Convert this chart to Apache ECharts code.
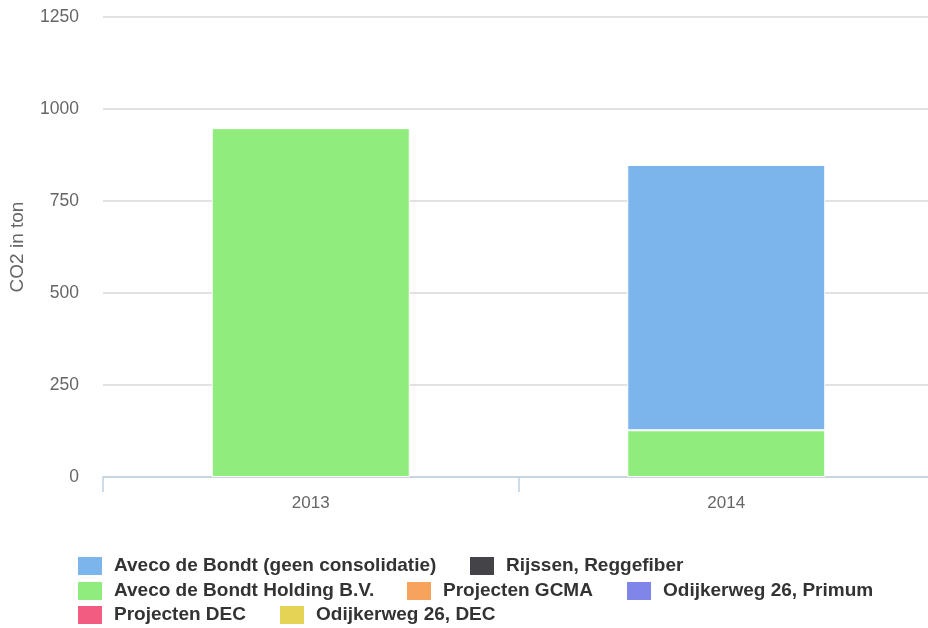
<!DOCTYPE html>
<html>
<head>
<meta charset="utf-8">
<script src="https://cdn.jsdelivr.net/npm/echarts@6/dist/echarts.min.js"></script>
<style>
html,body{margin:0;padding:0;background:#fff;}
#c{width:928px;height:628px;}
</style>
</head>
<body>
<div id="c"></div>
<script>
const categories = ['2013', '2014'];
const yTicks = [0, 250, 500, 750, 1000, 1250];
const seriesNames = [
  'Aveco de Bondt (geen consolidatie)',
  'Rijssen, Reggefiber',
  'Aveco de Bondt Holding B.V.',
  'Projecten GCMA',
  'Odijkerweg 26, Primum',
  'Projecten DEC',
  'Odijkerweg 26, DEC'
];
const seriesColors = ['#7cb5ec', '#434348', '#90ed7d', '#f7a35c', '#8085e9', '#f15c80', '#e4d354'];
const avecoGeen = [null, 721];
const rijssen = [null, null];
const avecoHolding = [948, 127];
const projectenGCMA = [null, null];
const odijkPrimum = [null, null];
const projectenDEC = [null, null];
const odijkDEC = [null, null];
const seriesValues = [avecoGeen, rijssen, avecoHolding, projectenGCMA, odijkPrimum, projectenDEC, odijkDEC];

// legend layout: [series index, left, top]
const legendRows = [
  [0, 76, 555], [1, 468, 555],
  [2, 76, 580], [3, 405, 580], [4, 625, 580],
  [5, 76, 604], [6, 278, 604]
];

const font = 'Liberation Sans, Arial, Helvetica, sans-serif';

const series = [];
for (let i = seriesNames.length - 1; i >= 0; i--) {
  series.push({
    name: seriesNames[i],
    type: 'bar',
    stack: 'total',
    data: seriesValues[i],
    barWidth: 198,
    itemStyle: { color: seriesColors[i], borderColor: '#ffffff', borderWidth: 1 },
    emphasis: { disabled: true }
  });
}

const legends = legendRows.map(([idx, l, t]) => ({
  data: [seriesNames[idx]],
  left: l,
  top: t,
  padding: 0,
  itemWidth: 26,
  itemHeight: 20,
  icon: 'rect',
  selectedMode: false,
  textStyle: { color: '#333333', fontSize: 19, fontWeight: 'bold', fontFamily: font, padding: [0, 0, 0, 6], lineHeight: 20 }
}));

const chart = echarts.init(document.getElementById('c'), null, { renderer: 'canvas' });
chart.setOption({
  animation: false,
  backgroundColor: '#ffffff',
  color: seriesColors,
  legend: legends,
  grid: { left: 103, right: -6, top: 17, bottom: 151, containLabel: false, outerBoundsMode: 'none' },
  xAxis: {
    type: 'category',
    data: categories,
    axisLine: { show: true, lineStyle: { color: '#C0D0E0', width: 1.5 } },
    axisTick: { show: true, length: 15, lineStyle: { color: '#C0D0E0', width: 1.5 } },
    axisLabel: { color: '#666666', fontSize: 17, fontFamily: font, margin: 18 },
    splitLine: { show: false }
  },
  yAxis: {
    type: 'value',
    min: yTicks[0],
    max: yTicks[yTicks.length - 1],
    interval: yTicks[1] - yTicks[0],
    name: 'CO2 in ton',
    nameLocation: 'middle',
    nameRotate: 90,
    nameGap: 76,
    nameTextStyle: { color: '#666666', fontSize: 19, fontFamily: font },
    axisLine: { show: false },
    axisTick: { show: false },
    axisLabel: { color: '#666666', fontSize: 17.5, fontFamily: font, margin: 24, padding: [4, 0, 0, 0], formatter: (v) => String(v) },
    splitLine: { show: true, lineStyle: { color: '#D8D8D8', width: 1.5 } }
  },
  series: series
});
</script>
</body>
</html>
